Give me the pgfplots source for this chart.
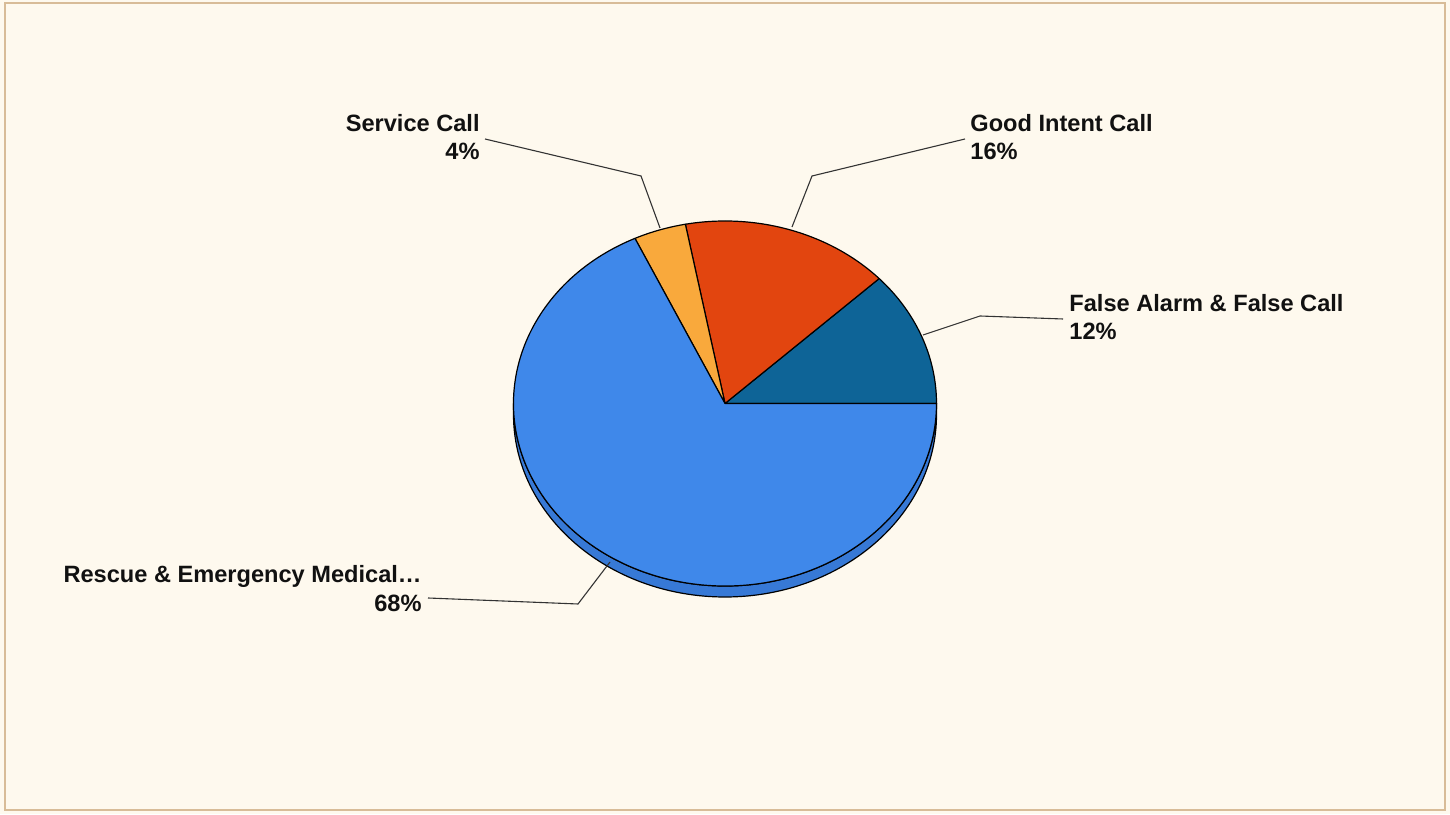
\documentclass[border=0pt]{standalone}
\usepackage{pgfplots}
\pgfplotsset{compat=1.18}
\usepackage{pgfplotstable}
\usepackage{fontspec}
\setmainfont{Liberation Sans}
\definecolor{bgcream}{HTML}{FEF9EE}
\definecolor{bordertan}{HTML}{D8BC98}
\definecolor{cFalse}{HTML}{0E6497}
\definecolor{cGood}{HTML}{E2450F}
\definecolor{cService}{HTML}{F9A93C}
\definecolor{cRescue}{HTML}{3F88EA}
\definecolor{cSide}{HTML}{3779D6}
\definecolor{txt}{HTML}{111111}

% share of each incident type (percent), counter-clockwise from 3 o'clock
\pgfplotstableread{
idx pct
0 12
1 16
2 4
3 68
}\piedata

\pgfplotstablegetelem{0}{pct}\of\piedata \edef\pA{\pgfplotsretval}
\pgfplotstablegetelem{1}{pct}\of\piedata \edef\pB{\pgfplotsretval}
\pgfplotstablegetelem{2}{pct}\of\piedata \edef\pC{\pgfplotsretval}
\pgfplotstablegetelem{3}{pct}\of\piedata \edef\pD{\pgfplotsretval}
\pgfmathsetmacro{\aA}{3.6*\pA}
\pgfmathsetmacro{\aB}{\aA+3.6*\pB}
\pgfmathsetmacro{\aC}{\aB+3.6*\pC}
\pgfmathsetmacro{\aD}{\aC+3.6*\pD}

\begin{document}
\begin{tikzpicture}
\begin{axis}[
  hide axis, x=0.5pt, y=0.5pt,
  xmin=0, xmax=1450, ymin=0, ymax=814,
  clip=false,
]
% background and frame
\fill[bgcream] (axis cs:0,0) rectangle (axis cs:1450,814);
\draw[bordertan, line width=1.1pt] (axis cs:5,4) rectangle (axis cs:1445,811);

% 3D side of the pie
\filldraw[fill=cSide, draw=black, line width=0.6pt]
  (axis cs:725,410.5) ++(180:105.75pt and 91.25pt) arc[start angle=180, end angle=360, x radius=105.75pt, y radius=91.25pt]
  -- ++(0,-5.5pt) arc[start angle=360, end angle=180, x radius=105.75pt, y radius=91.25pt] -- cycle;

% slices
\filldraw[fill=cFalse, draw=black, line width=0.6pt, line join=round]
  (axis cs:725,410.5) -- ++(0:105.75pt and 91.25pt) arc[start angle=0, end angle=\aA, x radius=105.75pt, y radius=91.25pt] -- cycle;
\filldraw[fill=cGood, draw=black, line width=0.6pt, line join=round]
  (axis cs:725,410.5) -- ++(\aA:105.75pt and 91.25pt) arc[start angle=\aA, end angle=\aB, x radius=105.75pt, y radius=91.25pt] -- cycle;
\filldraw[fill=cService, draw=black, line width=0.6pt, line join=round]
  (axis cs:725,410.5) -- ++(\aB:105.75pt and 91.25pt) arc[start angle=\aB, end angle=\aC, x radius=105.75pt, y radius=91.25pt] -- cycle;
\filldraw[fill=cRescue, draw=black, line width=0.6pt, line join=round]
  (axis cs:725,410.5) -- ++(\aC:105.75pt and 91.25pt) arc[start angle=\aC, end angle=\aD, x radius=105.75pt, y radius=91.25pt] -- cycle;

% leader lines
\addplot[black!80, line width=0.55pt] coordinates {(485,675) (641,638) (660,586)};
\addplot[black!80, line width=0.55pt] coordinates {(965,675) (812,638) (792,587)};
\addplot[black!80, line width=0.55pt] coordinates {(1063,495) (980,498) (923,479)};
\addplot[black!80, line width=0.55pt] coordinates {(428,216) (578,210) (610,252)};

% labels
\begin{scope}[every node/.style={inner sep=0pt, font=\fontsize{11.8}{14}\selectfont\bfseries, text=txt}]
\node[anchor=base east] at (axis cs:480,682) {Service Call};
\node[anchor=base east] at (axis cs:480,654) {4\%};
\node[anchor=base west] at (axis cs:970,682) {Good Intent Call};
\node[anchor=base west] at (axis cs:970,654) {16\%};
\node[anchor=base west] at (axis cs:1069,502) {False Alarm \& False Call};
\node[anchor=base west] at (axis cs:1069,474) {12\%};
\node[anchor=base east] at (axis cs:422,231) {Rescue \& Emergency Medical…};
\node[anchor=base east] at (axis cs:422,202) {68\%};
\end{scope}
\end{axis}
\pgfresetboundingbox
\path[use as bounding box] (current axis.south west) rectangle (current axis.north east);
\end{tikzpicture}
\end{document}
